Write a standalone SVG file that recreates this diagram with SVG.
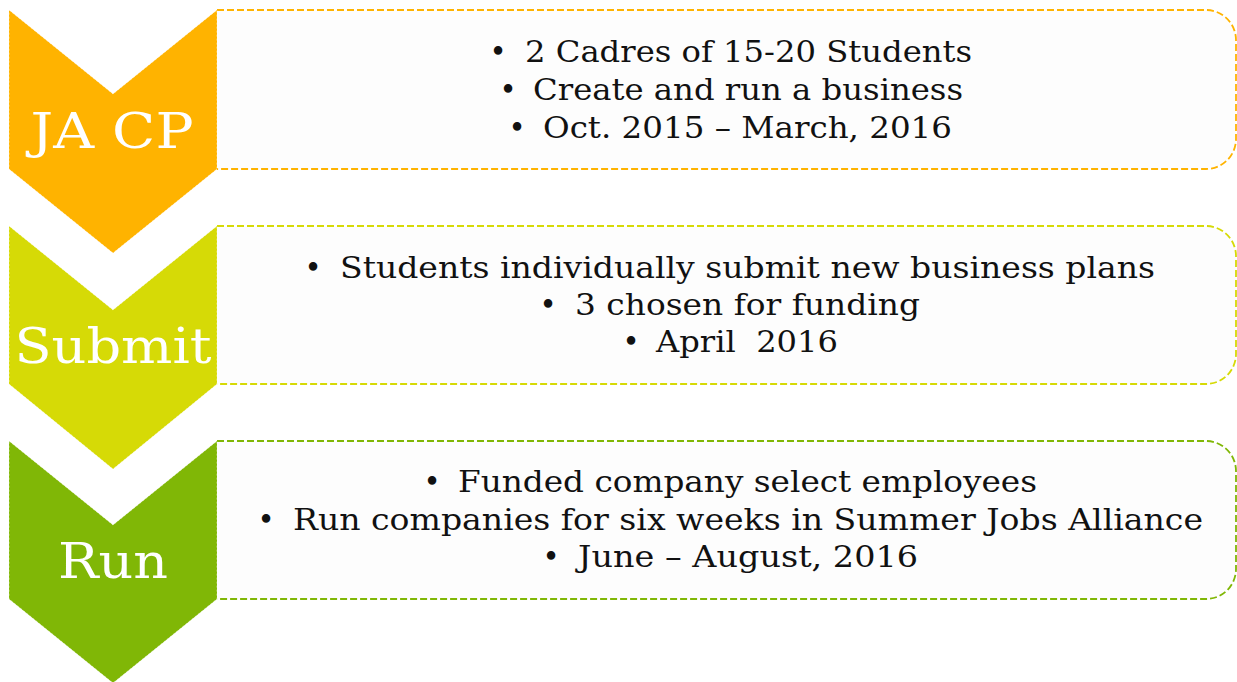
<svg xmlns="http://www.w3.org/2000/svg" width="1237" height="682" viewBox="0 0 1237 682">
<style>
.box{fill:#fdfdfd;stroke-width:1.8;stroke-dasharray:7 3}
.chev{stroke:#ffffff;stroke-width:0.8;stroke-dasharray:2 2;stroke-opacity:0.6}
.lbl{font-family:"DejaVu Serif","Liberation Serif",serif;font-size:48px;fill:#ffffff;text-anchor:middle}
.txt{font-family:"DejaVu Serif","Liberation Serif",serif;font-size:29px;fill:#111111}
.bul{font-family:"DejaVu Serif","Liberation Serif",serif;font-size:29px;fill:#111111;text-anchor:middle}
</style>
<rect width="1237" height="682" fill="#ffffff"/>
<g id="step1">
<path class="box" stroke="#ffb300" d="M217,10 H1206 A30,30 0 0 1 1236,40 V139 A30,30 0 0 1 1206,169 H217"/>
<path class="chev" fill="#ffb300" d="M9,10 L113,94 L217,10 L217,169 L113,253 L9,169 Z"/>
<text class="lbl" x="112" y="148" textLength="163" lengthAdjust="spacingAndGlyphs">JA CP</text>
<text class="bul" x="498" y="62">•</text>
<text class="txt" x="525" y="62" textLength="447" lengthAdjust="spacingAndGlyphs">2 Cadres of 15-20 Students</text>
<text class="bul" x="508" y="100">•</text>
<text class="txt" x="533" y="100" textLength="430" lengthAdjust="spacingAndGlyphs">Create and run a business</text>
<text class="bul" x="517" y="138">•</text>
<text class="txt" x="543" y="138" textLength="409" lengthAdjust="spacingAndGlyphs">Oct. 2015 – March, 2016</text>
</g>
<g id="step2">
<path class="box" stroke="#d6da06" d="M217,226 H1206 A30,30 0 0 1 1236,256 V354 A30,30 0 0 1 1206,384 H217"/>
<path class="chev" fill="#d6da06" d="M9,226 L113,310 L217,226 L217,384 L113,469 L9,384 Z"/>
<text class="lbl" x="113" y="363" textLength="197" lengthAdjust="spacingAndGlyphs">Submit</text>
<text class="bul" x="313" y="278">•</text>
<text class="txt" x="340" y="278" textLength="815" lengthAdjust="spacingAndGlyphs">Students individually submit new business plans</text>
<text class="bul" x="548" y="315">•</text>
<text class="txt" x="575" y="315" textLength="345" lengthAdjust="spacingAndGlyphs">3 chosen for funding</text>
<text class="bul" x="631" y="352">•</text>
<text class="txt" x="656" y="352" textLength="182" lengthAdjust="spacingAndGlyphs" xml:space="preserve">April  2016</text>
</g>
<g id="step3">
<path class="box" stroke="#80b706" d="M217,441 H1206 A30,30 0 0 1 1236,471 V569 A30,30 0 0 1 1206,599 H217"/>
<path class="chev" fill="#80b706" d="M9,441 L113,525 L217,441 L217,599 L113,683 L9,599 Z"/>
<text class="lbl" x="113" y="578" textLength="110" lengthAdjust="spacingAndGlyphs">Run</text>
<text class="bul" x="432" y="492">•</text>
<text class="txt" x="458" y="492" textLength="579" lengthAdjust="spacingAndGlyphs">Funded company select employees</text>
<text class="bul" x="266" y="530">•</text>
<text class="txt" x="293" y="530" textLength="910" lengthAdjust="spacingAndGlyphs">Run companies for six weeks in Summer Jobs Alliance</text>
<text class="bul" x="551" y="567">•</text>
<text class="txt" x="578" y="567" textLength="340" lengthAdjust="spacingAndGlyphs">June – August, 2016</text>
</g>
<g id="connectors"/>
</svg>
